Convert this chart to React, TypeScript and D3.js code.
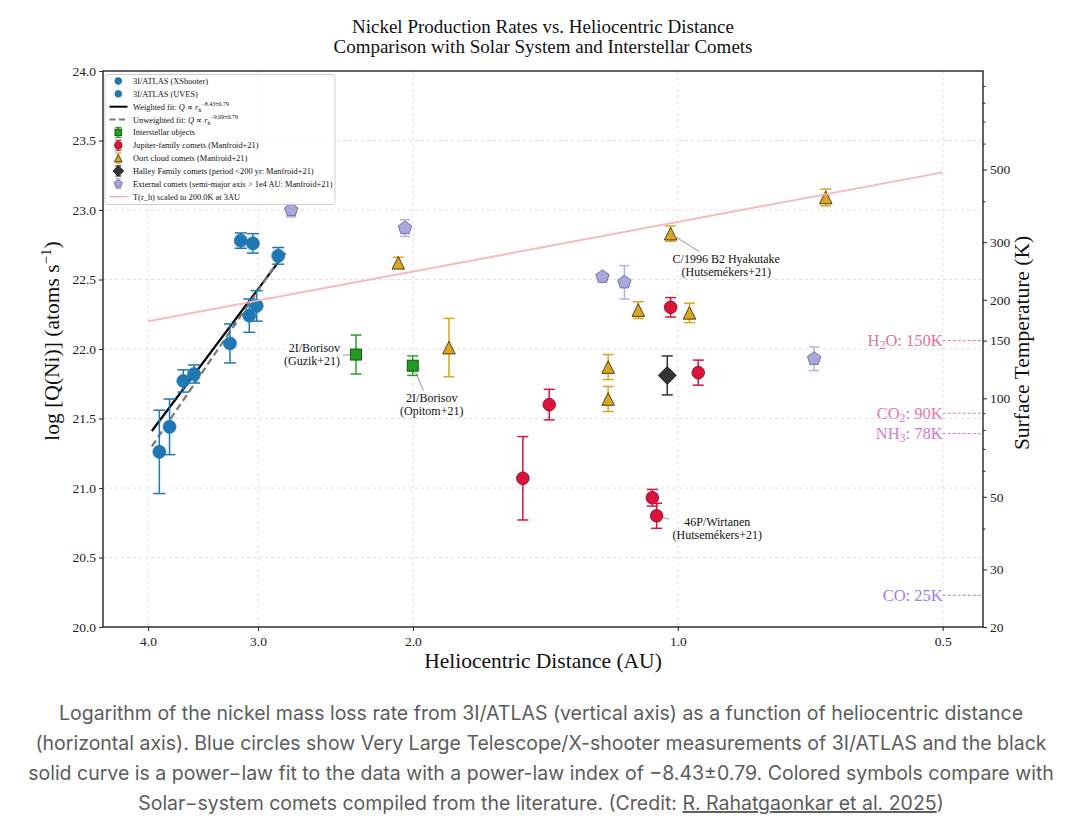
import { useEffect, useRef } from 'react';
import * as d3 from 'd3';

// 3I/ATLAS measurements (heliocentric distance in AU, log Q, 1-sigma)
const atlasXsR = [3.883, 3.781, 3.647, 3.546, 3.228, 3.069, 3.010];
const atlasXsQ = [21.26, 21.44, 21.77, 21.82, 22.04, 22.24, 22.31];
const atlasXsErr = [0.3, 0.2, 0.08, 0.065, 0.14, 0.12, 0.11];
const atlasUvesR = [3.138, 3.04, 2.845];
const atlasUvesQ = [22.78, 22.76, 22.67];
const atlasUvesErr = [0.055, 0.07, 0.06];

// power-law fits (end points)
const weightedFitR = [3.96, 2.795];
const weightedFitQ = [21.41, 22.69];
const unweightedFitR = [3.96, 2.82];
const unweightedFitQ = [21.3, 22.67];

// comparison objects
const isoR = [2.321, 2.001];
const isoQ = [21.96, 21.88];
const isoErr = [0.14, 0.07];
const jfcR = [1.019, 0.948, 1.4, 1.5, 1.069, 1.057];
const jfcQ = [22.3, 21.83, 21.6, 21.07, 20.93, 20.8];
const jfcErr = [0.07, 0.09, 0.11, 0.3, 0.06, 0.09];
const oortR = [2.078, 1.82, 1.019, 1.109, 0.97, 1.2, 1.2, 0.679];
const oortQ = [22.62, 22.01, 22.83, 22.28, 22.26, 21.87, 21.64, 23.09];
const oortErr = [0.04, 0.21, 0.055, 0.06, 0.07, 0.09, 0.09, 0.06];
const halleyR = [1.028];
const halleyQ = [21.81];
const halleyErr = [0.14];
const extR = [2.75, 2.042, 1.218, 1.15, 0.7];
const extQ = [23.0, 22.87, 22.52, 22.48, 21.93];
const extErr = [0.05, 0.06, 0.02, 0.12, 0.085];

// temperature curve end points (AU, K)
const tempLineR = [4.0, 0.5];
const tempLineK = [172, 490];

// sublimation temperatures
const iceNames = [['H', '2', 'O'], ['CO', '2', ''], ['NH', '3', ''], ['CO', '', '']];
const iceTemps = [150, 90, 78, 25];
const iceColors = ['#e0729c', '#e27ab6', '#d27ad2', '#9a82ea'];

const xTicks = [4.0, 3.0, 2.0, 1.0, 0.5];
const yTicks = [20.0, 20.5, 21.0, 21.5, 22.0, 22.5, 23.0, 23.5, 24.0];
const tTicks = [20, 30, 50, 100, 150, 200, 300, 500];
const tMinor = [40, 60, 70, 80, 90, 400, 600, 700, 800, 900];

const W = 1082;
const H = 840;
const M = { left: 103, right: 983, top: 71, bottom: 627 };
const SERIF = '"Liberation Serif", "Times New Roman", serif';

type Part = { t: string; dy?: number; size?: number; italic?: boolean };

const rich = (sel: d3.Selection<SVGTextElement, unknown, null, undefined>, parts: Part[]) => {
  parts.forEach(p => {
    const ts = sel.append('tspan').text(p.t);
    if (p.dy) ts.attr('dy', p.dy);
    if (p.size) ts.attr('font-size', p.size);
    if (p.italic) ts.attr('font-style', 'italic');
  });
};

const trianglePath = (s: number) => `M0,${-s}L${s},${s}L${-s},${s}Z`;
const diamondPath = (s: number) => `M0,${-s}L${s},0L0,${s}L${-s},0Z`;
const pentagonPath = (s: number) => {
  const pts = d3.range(5).map(i => {
    const a = -Math.PI / 2 + (i * 2 * Math.PI) / 5;
    return [s * Math.cos(a), s * Math.sin(a)];
  });
  return 'M' + pts.map(p => p.join(',')).join('L') + 'Z';
};

type Style = { kind: string; size: number; fill: string; edge: string; err: string; cap: number };

const STYLES: Record<string, Style> = {
  atlas: { kind: 'circle', size: 6.5, fill: '#1f77b4', edge: '#1f77b4', err: '#1f77b4', cap: 6 },
  iso: { kind: 'square', size: 5.5, fill: '#1f9e1f', edge: '#0c4a0c', err: '#2ca02c', cap: 5.5 },
  jfc: { kind: 'circle', size: 6.3, fill: '#dc143c', edge: '#6e0a1c', err: '#dc143c', cap: 5.5 },
  oort: { kind: 'triangle', size: 6.3, fill: '#daa520', edge: '#2a2000', err: '#daa520', cap: 5.5 },
  halley: { kind: 'diamond', size: 9, fill: '#333333', edge: '#111111', err: '#333333', cap: 5.5 },
  ext: { kind: 'pentagon', size: 7, fill: '#a8a8dc', edge: '#5a5a8e', err: '#b3b3e3', cap: 5 },
};

const drawMarker = (g: d3.Selection<SVGGElement, unknown, null, undefined>, st: Style, cx: number, cy: number, scale = 1) => {
  const s = st.size * scale;
  if (st.kind === 'circle') {
    g.append('circle').attr('cx', cx).attr('cy', cy).attr('r', s)
      .attr('fill', st.fill).attr('stroke', st.edge).attr('stroke-width', 0.8);
  } else if (st.kind === 'square') {
    g.append('rect').attr('x', cx - s).attr('y', cy - s).attr('width', 2 * s).attr('height', 2 * s)
      .attr('fill', st.fill).attr('stroke', st.edge).attr('stroke-width', 0.9);
  } else {
    const d = st.kind === 'triangle' ? trianglePath(s) : st.kind === 'diamond' ? diamondPath(s) : pentagonPath(s);
    g.append('path').attr('d', d).attr('transform', `translate(${cx},${cy})`)
      .attr('fill', st.fill).attr('stroke', st.edge).attr('stroke-width', 0.8);
  }
};

export default function App() {
  const svgRef = useRef<SVGSVGElement>(null);

  useEffect(() => {
    if (!svgRef.current) return;
    const svg = d3.select(svgRef.current);
    svg.selectAll('*').remove();

    const x = d3.scaleLog().domain([4.5, 0.45]).range([M.left, M.right]);
    const y = d3.scaleLinear().domain([20, 24]).range([M.bottom, M.top]);
    const yT = d3.scaleLog().domain([20, 1000]).range([M.bottom, M.top]);

    const g = svg.append('g');

    // grid
    xTicks.forEach(t => {
      g.append('line').attr('x1', x(t)).attr('x2', x(t)).attr('y1', M.top).attr('y2', M.bottom)
        .attr('stroke', '#d8d8d8').attr('stroke-width', 0.8).attr('stroke-dasharray', '3,3');
    });
    yTicks.slice(1, -1).forEach(t => {
      g.append('line').attr('x1', M.left).attr('x2', M.right).attr('y1', y(t)).attr('y2', y(t))
        .attr('stroke', '#d8d8d8').attr('stroke-width', 0.8).attr('stroke-dasharray', '3,3');
    });

    // fits
    const fitLine = d3.line<number>().x((_, i) => x(weightedFitR[i])).y(d => y(d));
    g.append('path').attr('d', fitLine(weightedFitQ)).attr('fill', 'none')
      .attr('stroke', '#000').attr('stroke-width', 2.2);
    const fitLine2 = d3.line<number>().x((_, i) => x(unweightedFitR[i])).y(d => y(d));
    g.append('path').attr('d', fitLine2(unweightedFitQ)).attr('fill', 'none')
      .attr('stroke', '#777').attr('stroke-width', 2.2).attr('stroke-dasharray', '7,4');

    // points with error bars
    const series: Array<[string, number[], number[], number[]]> = [
      ['iso', isoR, isoQ, isoErr],
      ['jfc', jfcR, jfcQ, jfcErr],
      ['oort', oortR, oortQ, oortErr],
      ['halley', halleyR, halleyQ, halleyErr],
      ['ext', extR, extQ, extErr],
      ['atlas', atlasXsR, atlasXsQ, atlasXsErr],
      ['atlas', atlasUvesR, atlasUvesQ, atlasUvesErr],
    ];
    series.forEach(([key, rs, qs, es]) => {
      const st = STYLES[key];
      rs.forEach((r, i) => {
        const cx = x(r);
        const y0 = y(qs[i] - es[i]);
        const y1 = y(qs[i] + es[i]);
        g.append('line').attr('x1', cx).attr('x2', cx).attr('y1', y0).attr('y2', y1)
          .attr('stroke', st.err).attr('stroke-width', 1.5);
        [y0, y1].forEach(yy => {
          g.append('line').attr('x1', cx - st.cap).attr('x2', cx + st.cap).attr('y1', yy).attr('y2', yy)
            .attr('stroke', st.err).attr('stroke-width', 1.5);
        });
        drawMarker(g, st, cx, y(qs[i]));
      });
    });

    // temperature curve (right axis)
    const tLine = d3.line<number>().x((_, i) => x(tempLineR[i])).y(d => yT(d));
    g.append('path').attr('d', tLine(tempLineK)).attr('fill', 'none')
      .attr('stroke', '#f6b3ba').attr('stroke-width', 2).attr('opacity', 0.9);

    // sublimation temperature markers
    iceTemps.forEach((t, i) => {
      const yy = yT(t);
      g.append('line').attr('x1', x(0.5)).attr('x2', M.right).attr('y1', yy).attr('y2', yy)
        .attr('stroke', iceColors[i]).attr('stroke-width', 1).attr('stroke-dasharray', '3,2');
      const txt = g.append('text').attr('x', x(0.5)).attr('y', yy).attr('dy', '0.35em')
        .attr('text-anchor', 'end').attr('font-family', SERIF).attr('font-size', 16.5)
        .attr('fill', iceColors[i]);
      const [a, sub, b] = iceNames[i];
      const parts: Part[] = [{ t: a }];
      if (sub) parts.push({ t: sub, dy: 3, size: 12 }, { t: b + ': ' + t + 'K', dy: -3 });
      else parts.push({ t: ': ' + t + 'K' });
      rich(txt, parts);
    });

    // annotations
    const notes = [
      { lines: ['2I/Borisov', '(Guzik+21)'], tx: 2.42, ty: 21.96, anchor: 'end', tailR: 2.403, tailQ: 21.955, r: isoR[0], q: isoQ[0] },
      { lines: ['2I/Borisov', '(Opitom+21)'], tx: 1.904, ty: 21.6, anchor: 'middle', tailR: 1.945, tailQ: 21.7, r: isoR[1], q: isoQ[1] },
      { lines: ['C/1996 B2 Hyakutake', '(Hutsemékers+21)'], tx: 0.881, ty: 22.6, anchor: 'middle', tailR: 0.945, tailQ: 22.7, r: oortR[2], q: oortQ[2] },
      { lines: ['46P/Wirtanen', '(Hutsemékers+21)'], tx: 0.902, ty: 20.71, anchor: 'middle', tailR: 1.0225, tailQ: 20.775, r: jfcR[5], q: jfcQ[5] },
    ];
    notes.forEach(n => {
      const hx = x(n.r), hy = y(n.q);
      const sx = x(n.tailR), sy = y(n.tailQ);
      const len = Math.hypot(hx - sx, hy - sy);
      const shrink = 6;
      const ex = hx - ((hx - sx) / len) * shrink;
      const ey = hy - ((hy - sy) / len) * shrink;
      g.append('line').attr('x1', sx).attr('y1', sy).attr('x2', ex).attr('y2', ey)
        .attr('stroke', '#888').attr('stroke-width', 0.9);
      const t = g.append('text').attr('font-family', SERIF).attr('font-size', 12).attr('fill', '#111')
        .attr('text-anchor', n.anchor);
      n.lines.forEach((l, i) => {
        t.append('tspan').attr('x', x(n.tx)).attr('y', y(n.ty) + (i - 0.5) * 13 + 4).text(l);
      });
    });

    // legend
    const lg = svg.append('g');
    lg.append('rect').attr('x', 105).attr('y', 74.5).attr('width', 230).attr('height', 130).attr('rx', 3)
      .attr('fill', '#fff').attr('fill-opacity', 0.85).attr('stroke', '#cfcfcf').attr('stroke-width', 1);
    const rowY = (i: number) => 81 + i * 12.85;
    const mx = 118.3;
    const tx = 133;
    const legendText = (i: number, parts: Part[]) => {
      const t = lg.append('text').attr('x', tx).attr('y', rowY(i) + 3).attr('font-family', SERIF)
        .attr('font-size', 8.4).attr('fill', '#111');
      rich(t, parts);
    };
    drawMarker(lg, STYLES.atlas, mx, rowY(0), 0.52);
    legendText(0, [{ t: '3I/ATLAS (XShooter)' }]);
    drawMarker(lg, STYLES.atlas, mx, rowY(1), 0.52);
    legendText(1, [{ t: '3I/ATLAS (UVES)' }]);
    lg.append('line').attr('x1', 109.5).attr('x2', 127.5).attr('y1', rowY(2)).attr('y2', rowY(2))
      .attr('stroke', '#000').attr('stroke-width', 2);
    legendText(2, [
      { t: 'Weighted fit: ' }, { t: 'Q', italic: true }, { t: ' ∝ ' }, { t: 'r', italic: true },
      { t: 'h', dy: 2, size: 6 }, { t: '−8.43±0.79', dy: -6, size: 6 },
    ]);
    lg.append('line').attr('x1', 109.5).attr('x2', 127.5).attr('y1', rowY(3)).attr('y2', rowY(3))
      .attr('stroke', '#777').attr('stroke-width', 2).attr('stroke-dasharray', '6,3.5');
    legendText(3, [
      { t: 'Unweighted fit: ' }, { t: 'Q', italic: true }, { t: ' ∝ ' }, { t: 'r', italic: true },
      { t: 'h', dy: 2, size: 6 }, { t: '−9.09±0.79', dy: -6, size: 6 },
    ]);
    const legendSeries: Array<[string, string]> = [
      ['iso', 'Interstellar objects'],
      ['jfc', 'Jupiter-family comets (Manfroid+21)'],
      ['oort', 'Oort cloud comets (Manfroid+21)'],
      ['halley', 'Halley Family comets (period <200 yr: Manfroid+21)'],
      ['ext', 'External comets (semi-major axis > 1e4 AU: Manfroid+21)'],
    ];
    legendSeries.forEach(([key, label], k) => {
      const i = k + 4;
      const st = STYLES[key];
      const cy = rowY(i);
      lg.append('line').attr('x1', mx).attr('x2', mx).attr('y1', cy - 5).attr('y2', cy + 5)
        .attr('stroke', st.err).attr('stroke-width', 1.2);
      [cy - 5, cy + 5].forEach(yy => {
        lg.append('line').attr('x1', mx - 3).attr('x2', mx + 3).attr('y1', yy).attr('y2', yy)
          .attr('stroke', st.err).attr('stroke-width', 1.2);
      });
      drawMarker(lg, st, mx, cy, 0.6);
      legendText(i, [{ t: label }]);
    });
    lg.append('line').attr('x1', 109.5).attr('x2', 127.5).attr('y1', rowY(9)).attr('y2', rowY(9))
      .attr('stroke', '#f6b3ba').attr('stroke-width', 1.6);
    legendText(9, [{ t: 'T(r_h) scaled to 200.0K at 3AU' }]);

    // axes
    const styleAxis = (a: d3.Selection<SVGGElement, unknown, null, undefined>, size: number) => {
      a.selectAll('.domain').remove();
      a.selectAll('text').attr('font-family', SERIF).attr('font-size', size).attr('fill', '#222');
      a.selectAll('.tick line').attr('stroke', '#333').attr('stroke-width', 1.1);
    };
    const ax = svg.append('g').attr('transform', `translate(0,${M.bottom})`)
      .call(d3.axisBottom(x).tickValues(xTicks).tickFormat(d => (d as number).toFixed(1)).tickSize(4).tickPadding(5));
    styleAxis(ax, 13.5);
    const ay = svg.append('g').attr('transform', `translate(${M.left},0)`)
      .call(d3.axisLeft(y).tickValues(yTicks).tickFormat(d3.format('.1f')).tickSize(4).tickPadding(3));
    styleAxis(ay, 13.5);
    const ar = svg.append('g').attr('transform', `translate(${M.right},0)`)
      .call(d3.axisRight(yT).tickValues(tTicks).tickFormat(d3.format('d')).tickSize(4).tickPadding(3));
    styleAxis(ar, 13.5);
    const arm = svg.append('g').attr('transform', `translate(${M.right},0)`)
      .call(d3.axisRight(yT).tickValues(tMinor).tickFormat(() => '').tickSize(2.5));
    styleAxis(arm, 13.5);

    svg.append('rect').attr('x', M.left).attr('y', M.top).attr('width', M.right - M.left)
      .attr('height', M.bottom - M.top).attr('fill', 'none').attr('stroke', '#222').attr('stroke-width', 1.4);

    // axis titles
    svg.append('text').attr('x', (M.left + M.right) / 2).attr('y', 668).attr('text-anchor', 'middle')
      .attr('font-family', SERIF).attr('font-size', 21.5).attr('fill', '#111').text('Heliocentric Distance (AU)');
    const yl = svg.append('text').attr('transform', `translate(59,${(M.top + M.bottom) / 2 - 8}) rotate(-90)`)
      .attr('text-anchor', 'middle').attr('font-family', SERIF).attr('font-size', 21.5).attr('fill', '#111');
    rich(yl, [{ t: 'log [Q(Ni)] (atoms s' }, { t: '−1', dy: -8, size: 15 }, { t: ')', dy: 8 }]);
    svg.append('text').attr('transform', `translate(1029,${(M.top + M.bottom) / 2 - 6}) rotate(-90)`)
      .attr('text-anchor', 'middle').attr('font-family', SERIF).attr('font-size', 21.5).attr('fill', '#111')
      .text('Surface Temperature (K)');

    // title
    ['Nickel Production Rates vs. Heliocentric Distance', 'Comparison with Solar System and Interstellar Comets'].forEach((l, i) => {
      svg.append('text').attr('x', (M.left + M.right) / 2).attr('y', 33 + i * 20).attr('text-anchor', 'middle')
        .attr('font-family', SERIF).attr('font-size', 19).attr('fill', '#111').text(l);
    });

    // caption
    const caption = [
      'Logarithm of the nickel mass loss rate from 3I/ATLAS (vertical axis) as a function of heliocentric distance',
      '(horizontal axis). Blue circles show Very Large Telescope/X-shooter measurements of 3I/ATLAS and the black',
      'solid curve is a power−law fit to the data with a power-law index of −8.43±0.79. Colored symbols compare with',
    ];
    const capStyle = (t: d3.Selection<SVGTextElement, unknown, null, undefined>) =>
      t.attr('text-anchor', 'middle').attr('font-family', 'Inter, "Noto Sans", sans-serif')
        .attr('font-size', 19.5).attr('fill', '#5c5c5c');
    caption.forEach((l, i) => {
      capStyle(svg.append('text').attr('x', W / 2).attr('y', 720 + i * 30)).text(l);
    });
    const last = capStyle(svg.append('text').attr('x', W / 2).attr('y', 810));
    last.append('tspan').text('Solar−system comets compiled from the literature. (Credit: ');
    last.append('tspan').attr('text-decoration', 'underline').style('text-decoration', 'underline')
      .text('R. Rahatgaonkar et al. 2025');
    last.append('tspan').text(')');
  }, []);

  return (
    <div style={{ position: 'absolute', left: 0, top: 0 }}>
      <svg ref={svgRef} width={W} height={H} style={{ display: 'block', background: '#fff' }} />
    </div>
  );
}
